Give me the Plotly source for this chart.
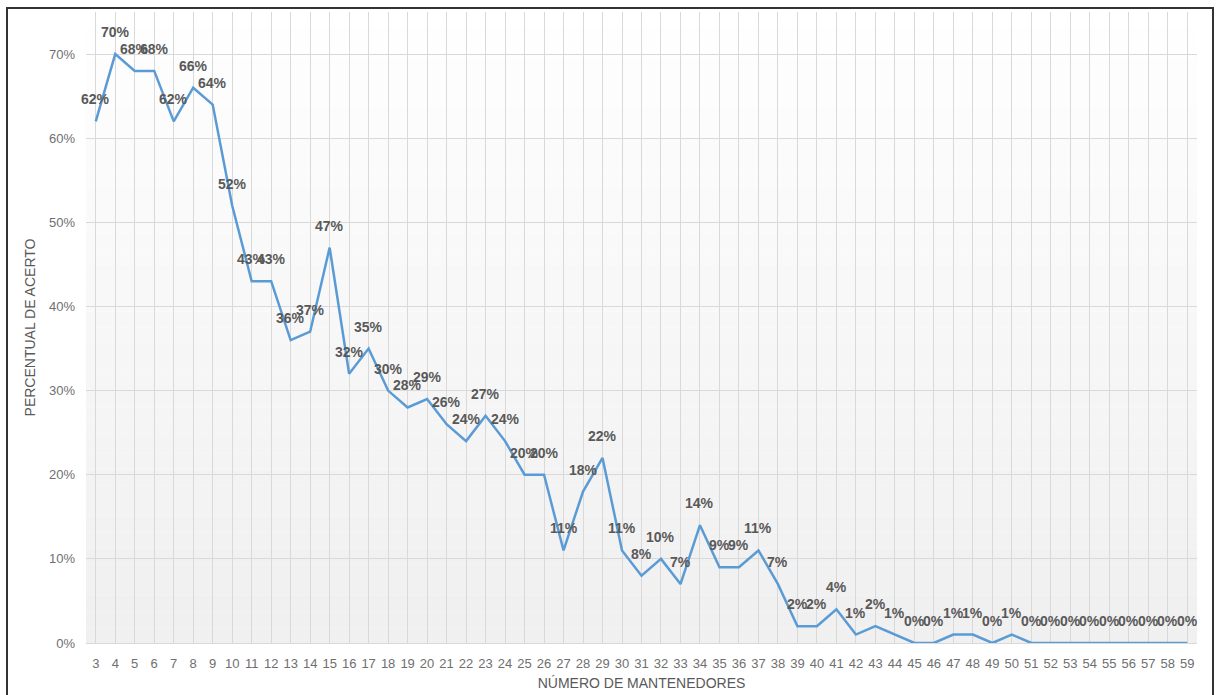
import plotly.graph_objects as go

mantenedores = list(range(3, 60))
acerto = [62, 70, 68, 68, 62, 66, 64, 52, 43, 43, 36, 37, 47, 32, 35, 30, 28, 29, 26, 24,
          27, 24, 20, 20, 11, 18, 22, 11, 8, 10, 7, 14, 9, 9, 11, 7, 2, 2, 4, 1,
          2, 1, 0, 0, 1, 1, 0, 1, 0, 0, 0, 0, 0, 0, 0, 0, 0]
y_ticks = [0, 10, 20, 30, 40, 50, 60, 70]

yvals = [v / 100 for v in acerto]
labels = [f"{v}%" for v in acerto]

fig = go.Figure()

# subtle vertical gradient background
n = 40
top = 0.75
for i in range(n):
    c = int(240 + 15 * (i / (n - 1)))
    fig.add_shape(type="rect", xref="paper", yref="y", x0=0, x1=1,
                  y0=top * i / n, y1=top * (i + 1) / n,
                  fillcolor=f"rgb({c},{c},{c})", line_width=0, layer="below")

fig.add_trace(go.Scatter(
    x=mantenedores, y=yvals, mode="lines",
    line=dict(color="#5b9bd5", width=2.5),
    showlegend=False, hoverinfo="x+y"))

for xv, yv, lab in zip(mantenedores, yvals, labels):
    fig.add_annotation(x=xv, y=yv, text=f"<b>{lab}</b>", showarrow=False,
                       yshift=22, font=dict(family="Liberation Sans, Arial", size=14, color="#595959"))

fig.update_layout(
    width=1219, height=695,
    margin=dict(l=86, r=22, t=12, b=52),
    paper_bgcolor="white", plot_bgcolor="rgba(0,0,0,0)",
    font=dict(family="Liberation Sans, Arial", color="#595959", size=12),
)
fig.update_xaxes(
    range=[mantenedores[0] - 0.5, mantenedores[-1] + 0.5], automargin=False,
    tickmode="array", tickvals=mantenedores, ticktext=[str(m) for m in mantenedores],
    showgrid=True, gridcolor="#d9d9d9", gridwidth=1, zeroline=False,
    showline=True, linecolor="#d9d9d9", ticks="", ticklabelstandoff=8,
    tickfont=dict(size=13, color="#6f6f6f"),
    title=dict(text="NÚMERO DE MANTENEDORES", font=dict(size=14, color="#595959"), standoff=8),
)
fig.update_yaxes(
    range=[0, 0.75], automargin=False, tickmode="array", tickvals=[t / 100 for t in y_ticks],
    ticktext=[f"{t}%" for t in y_ticks],
    showgrid=True, gridcolor="#d9d9d9", gridwidth=1, zeroline=False,
    tickfont=dict(size=13, color="#6f6f6f"), ticks="", ticklabelstandoff=10,
    title=dict(text="PERCENTUAL DE ACERTO", font=dict(size=14, color="#595959"), standoff=10),
)

# outer chart border
fig.add_shape(type="rect", xref="paper", yref="paper",
              x0=-86 / 1111 + 7 / 1111, x1=1 + 16 / 1111, y0=-0.2, y1=1 + 4 / 631,
              line=dict(color="#333333", width=2), fillcolor="rgba(0,0,0,0)")

fig.write_html("out.html")
